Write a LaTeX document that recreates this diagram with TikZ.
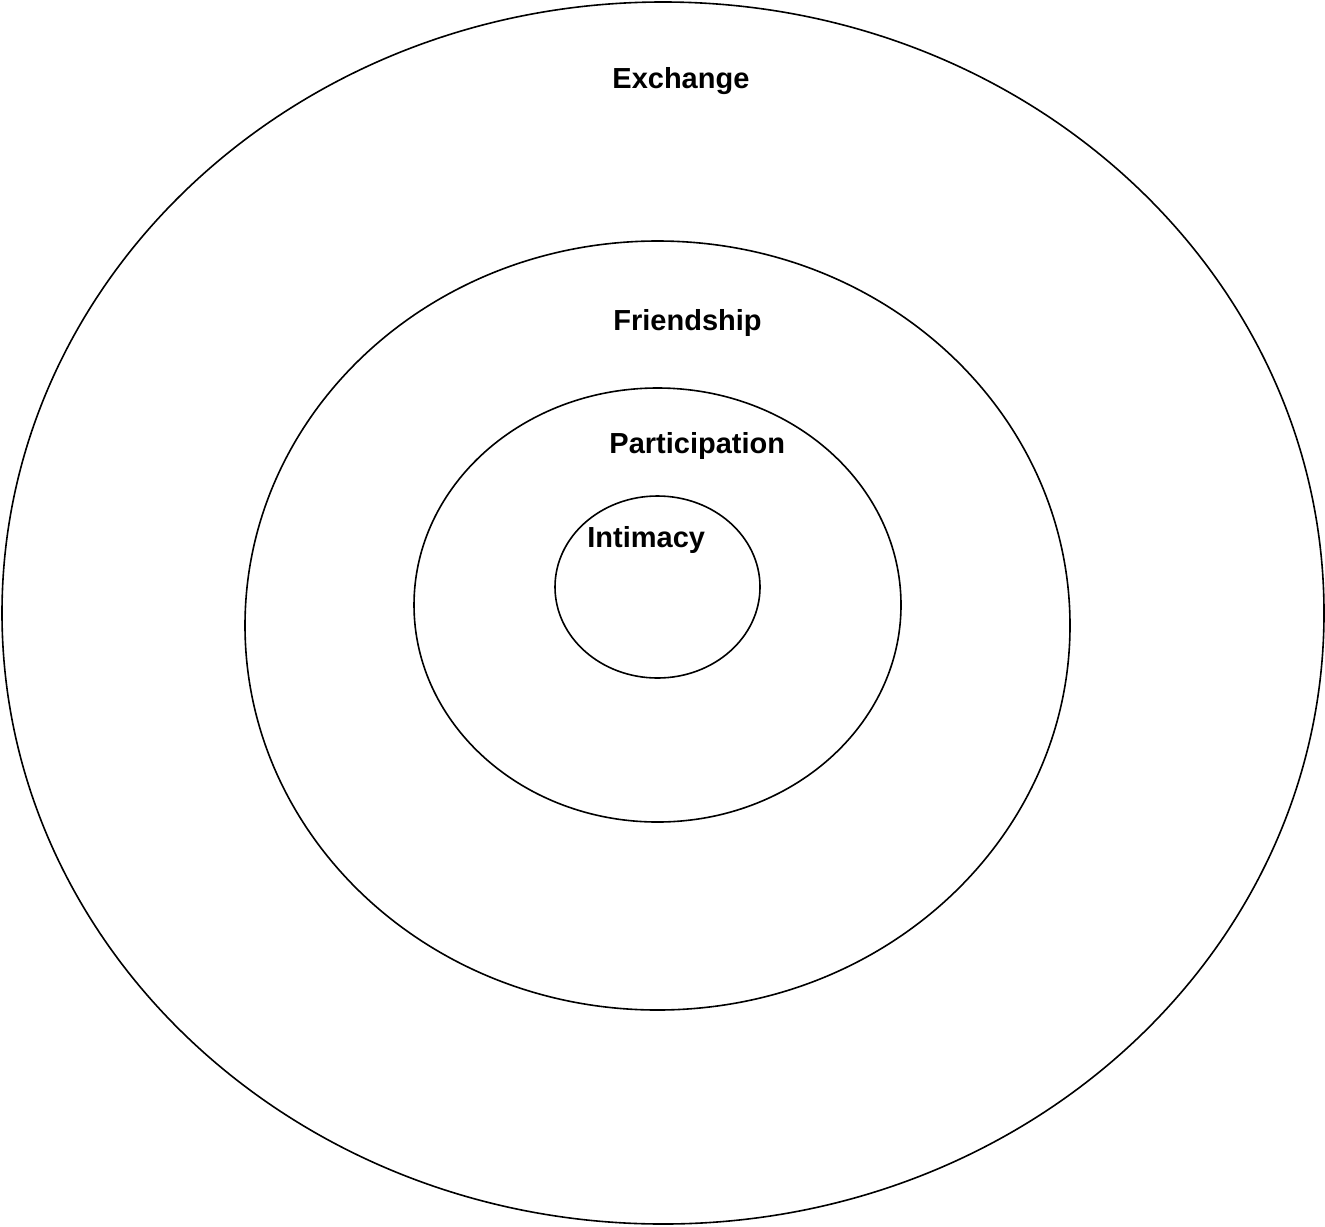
\documentclass[tikz,border=0pt]{standalone}
\usepackage{fontspec}
\setmainfont{Liberation Sans}
\begin{document}
\begin{tikzpicture}[x=0.5pt,y=-0.5pt,
  ring/.style={draw=black,line width=0.8pt},
  lbl/.style={anchor=base west,inner sep=0pt,font=\fontsize{14.5}{17}\selectfont\bfseries}]
\useasboundingbox (0,0) rectangle (1325,1226);
\draw[ring] (663,613) ellipse [x radius=661, y radius=611];
\draw[ring] (657.5,625.5) ellipse [x radius=412.5, y radius=384.5];
\draw[ring] (657.5,605) ellipse [x radius=243.5, y radius=217];
\draw[ring] (657.5,587) ellipse [x radius=102.5, y radius=91];
\node[lbl] (exchange) at (612,88) {Exchange};
\node[lbl] (friendship) at (613,330) {Friendship};
\node[lbl] (participation) at (609,453) {Participation};
\node[lbl] (intimacy) at (587,547) {Intimacy};
\end{tikzpicture}
\end{document}
